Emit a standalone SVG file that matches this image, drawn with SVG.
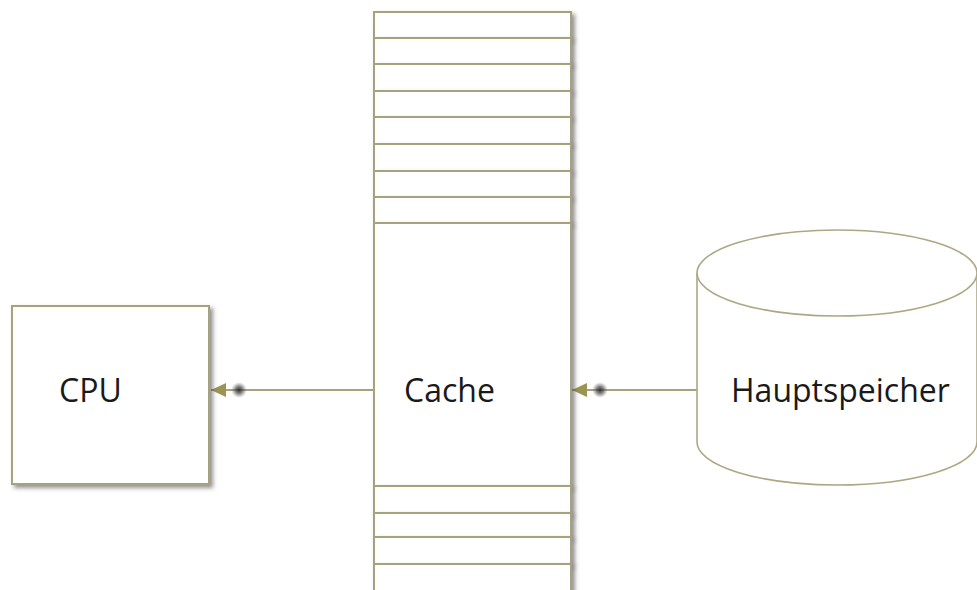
<svg xmlns="http://www.w3.org/2000/svg" width="977" height="590" viewBox="0 0 977 590">
  <style>
    .box { fill: #ffffff; stroke: #a8a27c; stroke-width: 2; filter: url(#shadow); }
    .cyl { fill: #ffffff; stroke: #aea784; stroke-width: 1.6; }
    .lbl { font-family: "Open Sans", "Liberation Sans", sans-serif; font-size: 32px; fill: #1a1a1a; }
    .conn { stroke: #a8a27c; stroke-width: 2; fill: none; marker-end: url(#arrow); }
  </style>
  <defs>
    <filter id="shadow" x="-10%" y="-10%" width="130%" height="140%">
      <feDropShadow dx="3" dy="3" stdDeviation="2" flood-color="#3a3a3a" flood-opacity="0.55"/>
    </filter>
    <radialGradient id="dot">
      <stop offset="0" stop-color="#2a2a2a" stop-opacity="0.95"/>
      <stop offset="0.45" stop-color="#444" stop-opacity="0.65"/>
      <stop offset="1" stop-color="#777" stop-opacity="0"/>
    </radialGradient>
    <marker id="arrow" markerUnits="userSpaceOnUse" viewBox="-22 -9 38 18" markerWidth="38" markerHeight="18" refX="15" refY="0" orient="auto">
      <circle cx="-13" cy="0" r="8" fill="url(#dot)"/>
      <path d="M0,-7 L15,0 L0,7 Z" fill="#9c9452"/>
    </marker>
  </defs>

  <g id="connectors">
    <line class="conn" x1="374" y1="390" x2="211" y2="390"/>
    <line class="conn" x1="697" y1="390" x2="572" y2="390"/>
  </g>

  <g id="cpu">
    <rect class="box" x="12" y="306" width="197" height="178"/>
    <text class="lbl" x="59" y="402">CPU</text>
  </g>

  <g id="cache">
    <rect class="box" x="374" y="12" width="197" height="26"/>
    <rect class="box" x="374" y="38" width="197" height="26"/>
    <rect class="box" x="374" y="64" width="197" height="27"/>
    <rect class="box" x="374" y="91" width="197" height="26"/>
    <rect class="box" x="374" y="117" width="197" height="27"/>
    <rect class="box" x="374" y="144" width="197" height="27"/>
    <rect class="box" x="374" y="171" width="197" height="26"/>
    <rect class="box" x="374" y="197" width="197" height="26"/>
    <rect class="box" x="374" y="223" width="197" height="263"/>
    <rect class="box" x="374" y="486" width="197" height="27"/>
    <rect class="box" x="374" y="513" width="197" height="24"/>
    <rect class="box" x="374" y="537" width="197" height="27"/>
    <rect class="box" x="374" y="564" width="197" height="30"/>
    <text class="lbl" x="404" y="402">Cache</text>
  </g>

  <g id="hauptspeicher">
    <path class="cyl" d="M697,273 L697,442 A140,43 0 0 0 977,442 L977,273"/>
    <ellipse class="cyl" cx="837" cy="273" rx="140" ry="43"/>
    <text class="lbl" x="731" y="402">Hauptspeicher</text>
  </g>
</svg>
